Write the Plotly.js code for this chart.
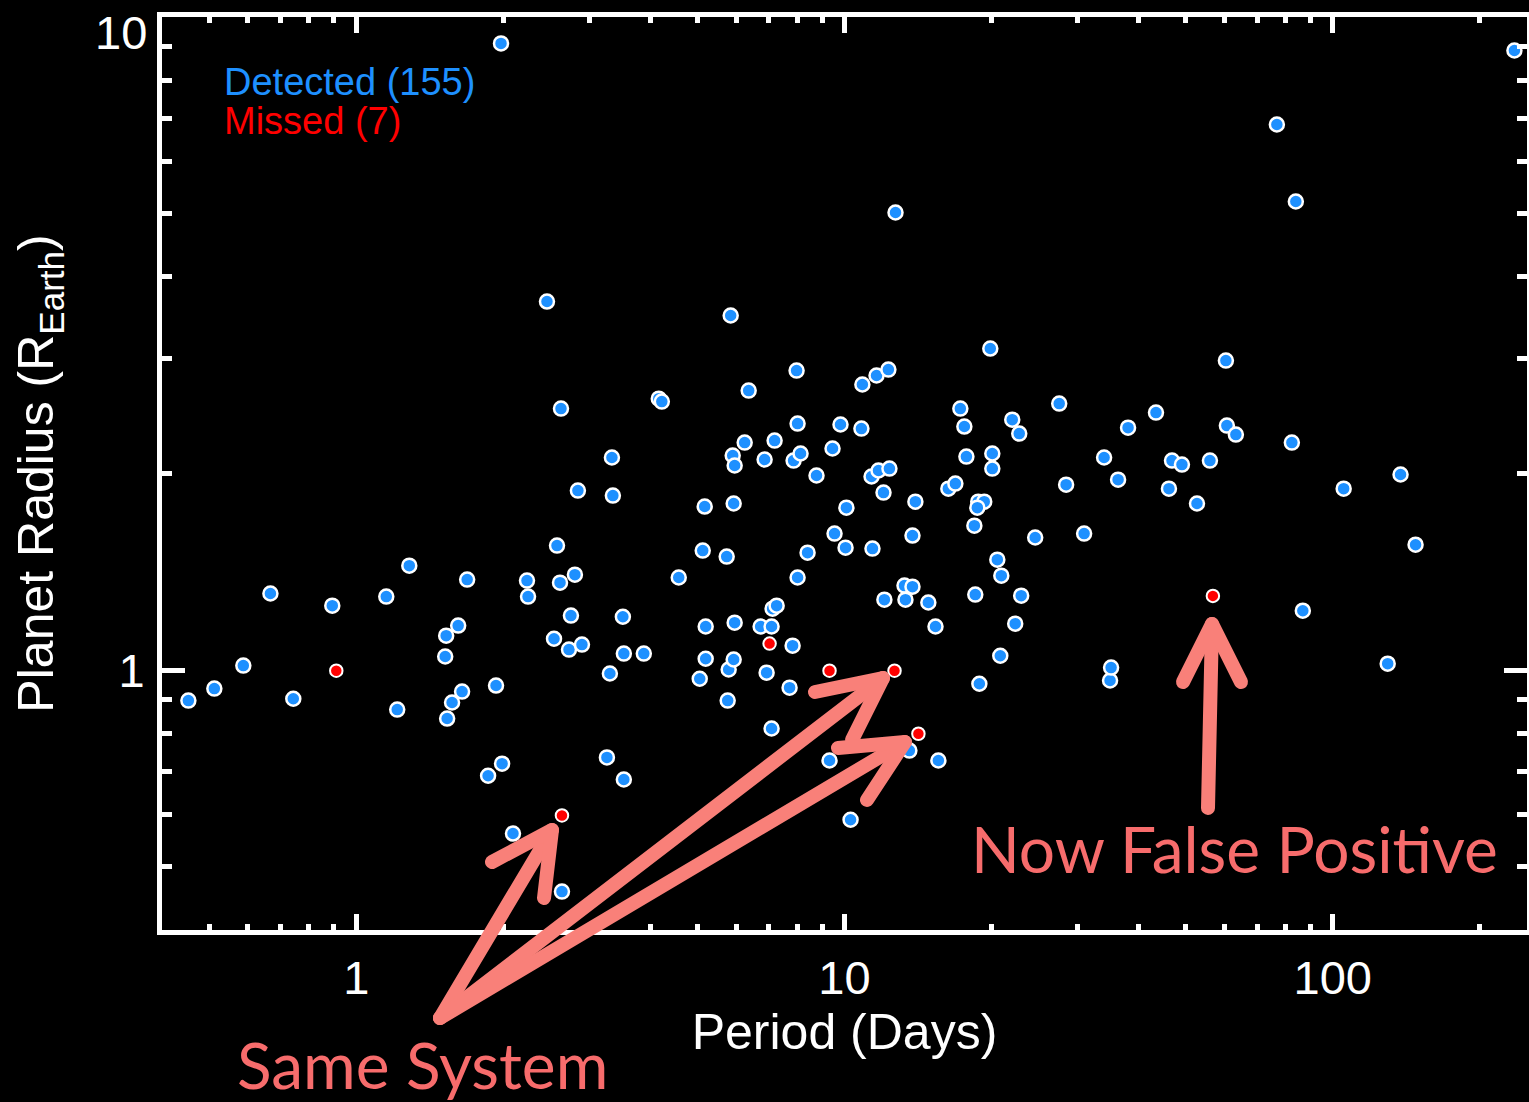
<!DOCTYPE html>
<html><head><meta charset="utf-8">
<script src="https://cdn.plot.ly/plotly-3.0.1.min.js"></script>
<style>html,body{margin:0;padding:0;background:#000;}#chart{width:1529px;height:1102px;}</style>
</head><body><div id="chart"></div>
<script>
// ---------- data ----------
const detectedPeriod = [0.453,0.512,0.587,0.667,0.743,0.893,1.152,1.213,1.284,1.521,
1.528,1.571,1.647,1.535,1.617,1.687,1.862,1.989,1.933,1.979,
2.094,2.237,2.248,2.458,2.577,2.614,2.804,2.626,2.844,2.752,
2.541,2.727,2.899,2.638,3.307,3.261,3.339,3.354,3.516,3.532,
3.881,3.532,4.165,4.225,4.576,5.052,5.124,5.172,5.196,5.196,
5.737,5.764,5.791,5.929,5.929,5.846,5.902,5.957,6.245,6.364,
5.957,6.733,7.090,6.861,7.090,7.124,7.261,7.192,7.718,7.829,
7.865,8.128,7.977,8.015,8.015,8.402,8.763,9.318,9.451,9.541,
9.813,10.09,10.05,10.29,10.83,10.88,11.63,12.30,11.36,11.74,
12.36,11.41,12.02,12.07,12.72,13.27,13.78,13.33,13.58,13.78,
13.97,14.85,15.36,15.57,16.32,16.87,17.27,17.60,17.77,18.45,
18.53,18.79,19.33,18.71,18.89,19.89,20.08,20.08,20.56,20.95,
20.85,22.06,22.80,22.37,23.01,24.58,27.53,28.44,30.96,34.02,
34.99,35.16,36.34,38.09,43.45,46.19,46.86,49.11,52.72,56.04,
60.42,60.70,63.33,76.84,82.47,84.03,86.85,105.3,129.6,137.7,
147.8,235.6,6.926];
const detectedRadius = [0.898,0.937,1.016,1.31,0.904,1.255,1.296,0.870,1.445,1.049,
1.129,0.892,0.927,0.843,1.170,1.376,0.689,0.719,0.947,9.11,
0.562,1.371,1.296,3.667,1.551,1.361,1.400,2.514,1.883,1.212,
1.117,1.075,1.094,0.458,0.988,0.735,2.116,1.850,1.207,1.060,
1.060,0.680,2.604,2.577,1.386,0.970,1.524,1.780,1.166,1.041,
1.492,0.898,1.002,1.038,1.799,3.491,2.131,2.057,2.230,2.679,
1.182,1.166,1.166,2.101,0.814,1.242,1.255,2.246,0.940,1.090,
2.093,2.146,2.875,2.385,1.386,1.513,1.986,0.727,2.184,1.618,
2.377,1.773,1.540,0.590,2.343,2.737,2.825,2.885,1.979,2.021,
2.035,1.535,1.870,1.282,5.019,1.347,1.342,1.282,0.753,1.607,
1.811,1.269,1.166,0.727,1.896,1.930,2.514,2.360,2.123,1.664,
1.305,1.811,1.811,1.773,0.953,3.107,2.146,2.035,1.476,1.395,
1.052,2.418,2.302,1.178,1.300,1.596,2.559,1.923,1.618,2.116,
0.964,1.009,1.957,2.351,2.479,1.896,2.093,2.064,1.799,2.093,
2.978,2.368,2.294,6.845,2.230,5.218,1.233,1.896,1.023,1.993,
1.556,8.887,0.991];
const missedPeriod = [0.910,2.638,7.024,9.318,12.66,14.17,56.83];
const missedRadius = [0.998,0.599,1.098,0.998,0.998,0.799,1.299];

const xTickVals = [1,10,100];
const xTickText = ['1','10','100'];
const xMinorVals = [0.5,0.6,0.7,0.8,0.9,2,3,4,5,6,7,8,9,20,30,40,50,60,70,80,90,200];
const yTickVals = [1];
const yTickText = ['1'];
const yTopLabel = '10';
const yMinorVals = [0.5,0.6,0.7,0.8,0.9,2,3,4,5,6,7,8,9];

const legendLabels = ['Detected (155)','Missed (7)'];
const noteLabels = ['Same System','Now False Positive'];

// ---------- styling / layout ----------
const W = 1529, H = 1102, ML = 162, MR = 2, MT = 17, MB = 172;
const PW = W - ML - MR, PH = H - MT - MB;
const fx = v => (v - ML) / PW;          // pixel -> paper (decorations only)
const fy = v => (H - MB - v) / PH;

const BLUE = '#1E90FF', RED = '#FF0000', SALMON = '#F98079', NOTE = '#F76C6C';
const FAM = 'Liberation Sans, Arial, Helvetica, sans-serif';
const axisFont = {family: FAM, size: 47, color: '#fff'};

const traces = [
  {x: detectedPeriod, y: detectedRadius, type: 'scatter', mode: 'markers', name: legendLabels[0],
   marker: {color: BLUE, size: 14, line: {color: '#fff', width: 2.5}}},
  {x: missedPeriod, y: missedRadius, type: 'scatter', mode: 'markers', name: legendLabels[1],
   marker: {color: RED, size: 12.5, line: {color: '#fff', width: 2}}}
];

// arrow decorations in pixel space
const arrowPaths = [
  [[440,1018],[552,830]], [[492,862],[552,830],[544,898]],
  [[440,1018],[883,678]], [[815,692],[883,678],[852,740]],
  [[440,1018],[905,742]], [[838,748],[905,742],[867,800]],
  [[1208,808],[1212,624]], [[1183,682],[1212,624],[1241,682]]
];
const shapes = arrowPaths.map(pts => ({
  type: 'path', xref: 'paper', yref: 'paper', layer: 'above',
  path: pts.map((p, i) => (i ? 'L' : 'M') + fx(p[0]) + ',' + fy(p[1])).join(' '),
  line: {color: SALMON, width: 14}
}));

const annotations = [
  {text: yTopLabel, xref: 'paper', yref: 'paper', x: fx(149), y: fy(33), xanchor: 'right', yanchor: 'middle',
   showarrow: false, font: axisFont},
  {text: legendLabels[0], xref: 'paper', yref: 'paper', x: fx(222), y: fy(82), xanchor: 'left', yanchor: 'middle',
   showarrow: false, font: {family: FAM, size: 38, color: BLUE}},
  {text: legendLabels[1], xref: 'paper', yref: 'paper', x: fx(222), y: fy(121), xanchor: 'left', yanchor: 'middle',
   showarrow: false, font: {family: FAM, size: 38, color: RED}},
  {text: noteLabels[0], xref: 'paper', yref: 'paper', x: fx(422), y: fy(1064), xanchor: 'center', yanchor: 'middle',
   showarrow: false, font: {family: 'Lato, Open Sans, sans-serif', size: 64, color: NOTE}},
  {text: noteLabels[1], xref: 'paper', yref: 'paper', x: fx(1234), y: fy(848), xanchor: 'center', yanchor: 'middle',
   showarrow: false, font: {family: 'Lato, Open Sans, sans-serif', size: 64, color: NOTE}}
];

const axisCommon = {
  type: 'log', showgrid: false, zeroline: false,
  showline: true, linecolor: '#fff', linewidth: 5, mirror: 'ticks',
  ticks: 'inside', tickcolor: '#fff', tickwidth: 5,
  tickfont: axisFont, tickmode: 'array'
};

const layout = {
  width: W, height: H, margin: {l: ML, r: MR, t: MT, b: MB, pad: 0},
  paper_bgcolor: '#000', plot_bgcolor: '#000', showlegend: false,
  font: axisFont,
  xaxis: Object.assign({}, axisCommon, {
    range: [Math.log10(0.4), Math.log10(250)],
    tickvals: xTickVals, ticktext: xTickText, ticklen: 16, ticklabelstandoff: 3,
    minor: {tickmode: 'array', tickvals: xMinorVals, ticks: 'inside', ticklen: 6, tickwidth: 5, tickcolor: '#fff'},
    title: {text: 'Period (Days)', font: {family: FAM, size: 50, color: '#fff'}, standoff: 6}
  }),
  yaxis: Object.assign({}, axisCommon, {
    range: [Math.log10(0.4), 1],
    tickvals: yTickVals, ticktext: yTickText, ticklen: 23, ticklabelstandoff: 3,
    minor: {tickmode: 'array', tickvals: yMinorVals, ticks: 'inside', ticklen: 10, tickwidth: 5, tickcolor: '#fff'},
    title: {text: 'Planet Radius (R<sub>Earth</sub>)', font: {family: FAM, size: 50, color: '#fff'}, standoff: 50}
  }),
  shapes: shapes,
  annotations: annotations
};

Plotly.newPlot('chart', traces, layout, {displayModeBar: false, staticPlot: true}).then(() => {
  document.querySelectorAll('.shapelayer path').forEach(p => {
    p.style.strokeLinecap = 'round';
    p.style.strokeLinejoin = 'round';
  });
});
</script>
</body></html>
